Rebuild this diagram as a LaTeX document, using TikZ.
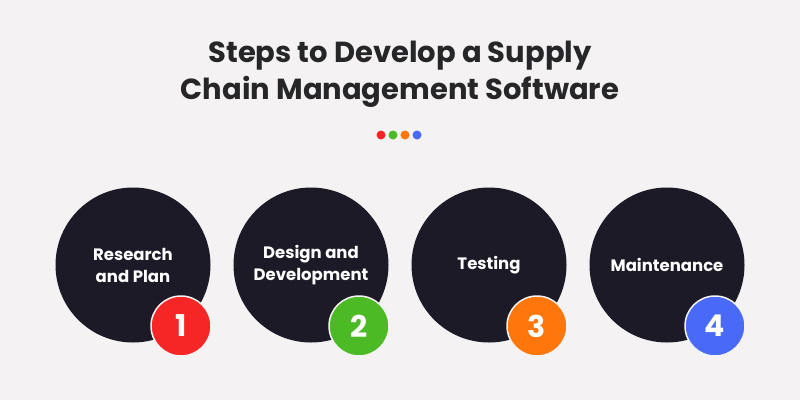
\documentclass[tikz,border=0pt]{standalone}
\usepackage{fontspec}
\setmainfont{Poppins}
\usetikzlibrary{positioning}

\tikzset{
    stepdisc/.style={circle, fill=stepdark, minimum size=155pt, inner sep=0pt,
        text=white, align=center, font=\bfseries\fontsize{16.5}{22}\selectfont},
    badge/.style={circle, minimum size=60pt, inner sep=0pt, draw=pagebg,
        line width=1.5pt, text=white, font=\bfseries\fontsize{30}{30}\selectfont},
    dot/.style={circle, minimum size=9pt, inner sep=0pt}
}

\begin{document}
\begin{tikzpicture}[x=1pt, y=-1pt]
% Define palette
\definecolor{pagebg}{RGB}{244, 242, 242}
\definecolor{stepdark}{RGB}{27, 26, 38}
\definecolor{titledark}{RGB}{38, 38, 40}
\definecolor{stepred}{RGB}{246, 38, 38}
\definecolor{stepgreen}{RGB}{76, 186, 36}
\definecolor{steporange}{RGB}{255, 118, 10}
\definecolor{stepblue}{RGB}{72, 106, 246}

\fill[pagebg] (0,0) rectangle (800,400);
\useasboundingbox (0,0) rectangle (800,400);

% Title
\node[align=center, text=titledark, font=\bfseries\fontsize{29}{37}\selectfont]
    (title) at (400,74) {Steps to Develop a Supply\\Chain Management Software};

\foreach \c/\t/\i in {
    stepred/{Research\\and Plan}/1,
    stepgreen/{Design and\\Development}/2,
    steporange/{Testing}/3,
    stepblue/{Maintenance}/4
} {
    \node[dot, fill=\c] (d\i) at ({369+12*\i},135) {};
    \node[stepdisc] (s\i) at ({-45+178*\i},265) {\t};
    \node[badge, fill=\c] (b\i) at ([shift={(48,61)}]s\i.center) {\i};
}
\end{tikzpicture}
\end{document}
